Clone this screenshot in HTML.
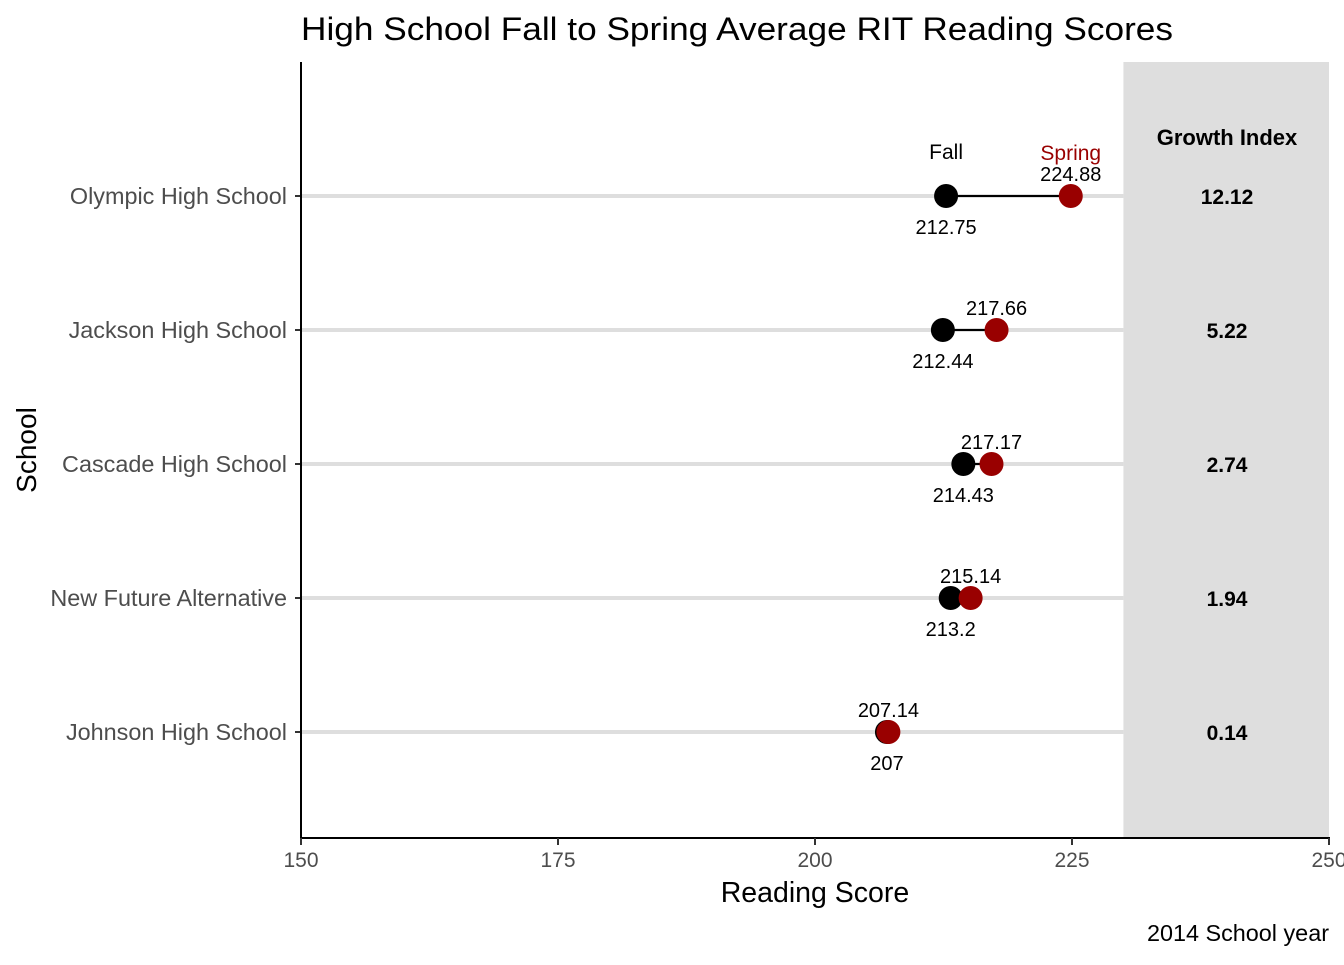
<!DOCTYPE html>
<html><head><meta charset="utf-8"><style>
body{margin:0;background:#fff;font-family:"Liberation Sans",sans-serif}
svg text{font-family:"Liberation Sans",sans-serif}
</style></head><body>
<svg id="chart" width="1344" height="960" xmlns="http://www.w3.org/2000/svg"></svg>
<script>
const schools=["Olympic High School","Jackson High School","Cascade High School","New Future Alternative","Johnson High School"];
const fall=[212.75,212.44,214.43,213.2,207];
const spring=[224.88,217.66,217.17,215.14,207.14];
const growth=["12.12","5.22","2.74","1.94","0.14"];
const xTicks=[150,175,200,225,250];
const NS="http://www.w3.org/2000/svg";
const svg=document.getElementById('chart');
const x=v=>301+(v-150)*(1028/100);
const y=i=>196+i*134;
function mk(tag,attrs,txt){const e=document.createElementNS(NS,tag);for(const k in attrs)e.setAttribute(k,attrs[k]);if(txt!==undefined)e.textContent=txt;svg.appendChild(e);return e;}
let e;
e=mk('rect',{x:x(230),y:62,width:x(250)-x(230),height:776,fill:'#dedede'});


e=mk('text',{x:301,y:40,'font-size':32,fill:'#000',textLength:872,lengthAdjust:'spacingAndGlyphs'},'High School Fall to Spring Average RIT Reading Scores');


schools.forEach((s,i)=>{
 const yy=y(i);
 e=mk('line',{x1:301,x2:x(230),y1:yy,y2:yy,stroke:'#dedede','stroke-width':4});
 
 
 e=mk('line',{x1:x(fall[i]),x2:x(spring[i]),y1:yy,y2:yy,stroke:'#000','stroke-width':2});
 
 
 e=mk('circle',{cx:x(fall[i]),cy:yy,r:12,fill:'#000'});
 
 
 e=mk('circle',{cx:x(spring[i]),cy:yy,r:12,fill:'#990000'});
 
 
 e=mk('text',{x:x(fall[i]),y:yy+38,'font-size':20,'text-anchor':'middle'},String(fall[i]));
 
 
 e=mk('text',{x:x(spring[i]),y:yy-15,'font-size':20,'text-anchor':'middle'},String(spring[i]));
 
 
 e=mk('text',{x:1227,y:yy+8,'font-size':21,'font-weight':'bold','text-anchor':'middle'},growth[i]);
 
 
 e=mk('text',{x:287,y:yy+8,'font-size':23.4,'text-anchor':'end',fill:'#4d4d4d'},s);
 
 
 e=mk('line',{x1:295,x2:301,y1:yy,y2:yy,stroke:'#333','stroke-width':2});
 
 
});
e=mk('text',{x:x(fall[0]),y:159,'font-size':21,'text-anchor':'middle'},'Fall');


e=mk('text',{x:x(spring[0]),y:160,'font-size':21,'text-anchor':'middle',fill:'#990000'},'Spring');


e=mk('text',{x:1227,y:145,'font-size':22,'font-weight':'bold','text-anchor':'middle'},'Growth Index');


e=mk('line',{x1:301,x2:301,y1:62,y2:839,stroke:'#000','stroke-width':2});


e=mk('line',{x1:300,x2:1330,y1:838,y2:838,stroke:'#000','stroke-width':2});


xTicks.forEach(t=>{
 e=mk('line',{x1:x(t),x2:x(t),y1:838,y2:845,stroke:'#333','stroke-width':2});
 
 
 e=mk('text',{x:x(t),y:867,'font-size':21,'text-anchor':'middle',fill:'#4d4d4d'},String(t));
 
 
});
e=mk('text',{x:815,y:902,'font-size':28.5,'text-anchor':'middle'},'Reading Score');


e=mk('text',{x:36,y:450,'font-size':28,'text-anchor':'middle',transform:'rotate(-90 36 450)'},'School');


e=mk('text',{x:1329,y:941,'font-size':23.4,'text-anchor':'end'},'2014 School year');


</script>
</body></html>
